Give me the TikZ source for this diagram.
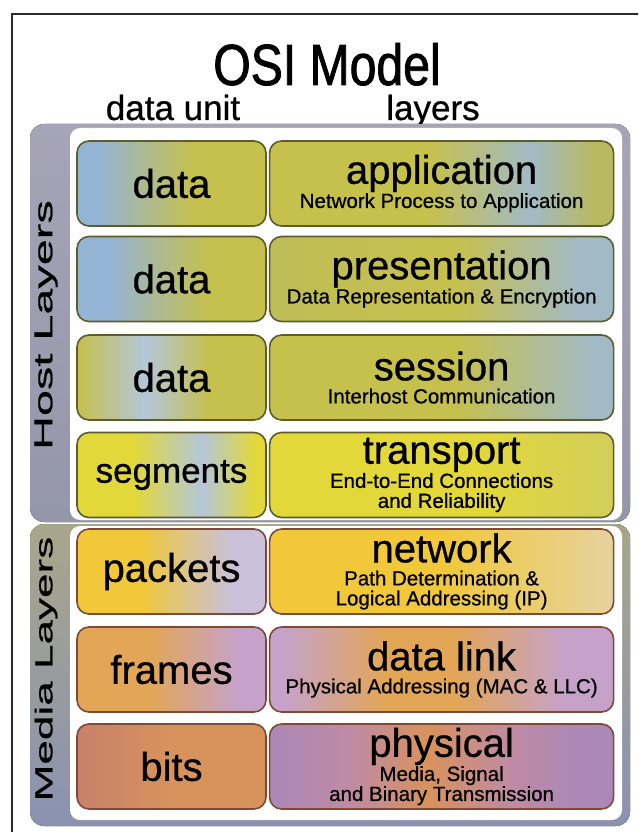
\documentclass[tikz,border=0pt]{standalone}
\usepackage{fontspec}
\setmainfont{Liberation Sans}[FakeBold=0.7]
\newfontfamily\titlefont[FakeStretch=0.83, FakeBold=1.4]{Liberation Sans}
\newfontfamily\bandfont[FakeStretch=1.8, FakeBold=0.7]{Liberation Sans}
\newcommand{\layerfont}{\fontsize{40}{40}\selectfont}
\usepackage{tikz}
\usetikzlibrary{positioning}
\usepackage{xcolor}

\definecolor{frameline}{HTML}{2A2A2A}
\definecolor{hosttop}{HTML}{A6A4B6}
\definecolor{hostbot}{HTML}{9496AA}
\definecolor{mediatop}{HTML}{A8A68A}
\definecolor{mediabot}{HTML}{8A92B2}
\definecolor{hostedge}{HTML}{5C5C2C}
\definecolor{mediaedge}{HTML}{7E4A36}
\definecolor{cblue}{HTML}{94B4D6}
\definecolor{colive}{HTML}{C6C04C}
\definecolor{colivegreen}{HTML}{B8BA62}
\definecolor{cgreyblue}{HTML}{A2BAC6}
\definecolor{cyellow}{HTML}{E2D83A}
\definecolor{cyellowolive}{HTML}{D2CE5A}
\definecolor{cpaleblue}{HTML}{B4C6DA}
\definecolor{cgold}{HTML}{F0C83A}
\definecolor{clavender}{HTML}{CAC0DA}
\definecolor{ccream}{HTML}{E6D29E}
\definecolor{corange}{HTML}{E2A656}
\definecolor{cmauve}{HTML}{C6A2CA}
\definecolor{cbrown}{HTML}{C8806A}
\definecolor{cpeach}{HTML}{D8925C}
\definecolor{cpurple}{HTML}{AA88B8}
\definecolor{cpink}{HTML}{C08AA4}

% box shadings (25bp = left edge, 75bp = right edge)
\pgfdeclarehorizontalshading{appunit}{100bp}{color(0bp)=(cblue); color(30bp)=(cblue); color(56bp)=(colive); color(100bp)=(colive)}
\pgfdeclarehorizontalshading{applayer}{100bp}{color(0bp)=(colive); color(48bp)=(colive); color(63bp)=(cgreyblue); color(72bp)=(colivegreen); color(100bp)=(colivegreen)}
\pgfdeclarehorizontalshading{presunit}{100bp}{color(0bp)=(cblue); color(33bp)=(cblue); color(60bp)=(colive); color(100bp)=(colive)}
\pgfdeclarehorizontalshading{preslayer}{100bp}{color(0bp)=(colivegreen); color(52bp)=(colive); color(70bp)=(cgreyblue); color(100bp)=(cgreyblue)}
\pgfdeclarehorizontalshading{sesunit}{100bp}{color(0bp)=(colive); color(25bp)=(colive); color(43bp)=(cpaleblue); color(60bp)=(colive); color(100bp)=(colive)}
\pgfdeclarehorizontalshading{seslayer}{100bp}{color(0bp)=(colive); color(52bp)=(colive); color(72bp)=(cgreyblue); color(100bp)=(cgreyblue)}
\pgfdeclarehorizontalshading{traunit}{100bp}{color(0bp)=(cyellow); color(40bp)=(cyellow); color(58bp)=(cpaleblue); color(72bp)=(cyellow); color(100bp)=(cyellow)}
\pgfdeclarehorizontalshading{tralayer}{100bp}{color(0bp)=(cyellow); color(55bp)=(cyellow); color(75bp)=(cyellowolive); color(100bp)=(cyellowolive)}
\pgfdeclarehorizontalshading{netunit}{100bp}{color(0bp)=(cgold); color(42bp)=(cgold); color(66bp)=(clavender); color(100bp)=(clavender)}
\pgfdeclarehorizontalshading{netlayer}{100bp}{color(0bp)=(cgold); color(50bp)=(cgold); color(75bp)=(ccream); color(100bp)=(ccream)}
\pgfdeclarehorizontalshading{dlunit}{100bp}{color(0bp)=(corange); color(44bp)=(corange); color(68bp)=(cmauve); color(100bp)=(cmauve)}
\pgfdeclarehorizontalshading{dllayer}{100bp}{color(0bp)=(cmauve); color(27bp)=(cmauve); color(42bp)=(corange); color(52bp)=(corange); color(68bp)=(cmauve); color(100bp)=(cmauve)}
\pgfdeclarehorizontalshading{phyunit}{100bp}{color(0bp)=(cbrown); color(25bp)=(cbrown); color(50bp)=(cpeach); color(100bp)=(cpeach)}
\pgfdeclarehorizontalshading{phylayer}{100bp}{color(0bp)=(cpurple); color(25bp)=(cpurple); color(37bp)=(cpink); color(48bp)=(cpeach); color(60bp)=(cpink); color(70bp)=(cpurple); color(100bp)=(cpurple)}

\begin{document}
\begin{tikzpicture}[
    x=1pt, y=-1pt,
    unitbox/.style={rectangle, draw=hostedge, line width=1.6pt, rounded corners=12pt, minimum width=189pt, minimum height=85pt, inner sep=2pt, align=center, font=\fontsize{40}{40}\selectfont},
    layerbox/.style={rectangle, draw=hostedge, line width=1.6pt, rounded corners=12pt, minimum width=344pt, minimum height=85pt, inner sep=2pt, align=center, font=\fontsize{20.5}{23}\selectfont},
    mediabox/.style={draw=mediaedge},
    header/.style={anchor=base, font=\fontsize{35}{35}\selectfont},
    bandlabel/.style={rotate=90, font=\bandfont\fontsize{26}{26}\selectfont}
]
    \useasboundingbox (0,0) rectangle (638,832);
    \clip (0,0) rectangle (638,832);

    % Frame
    \draw[frameline, line width=1.2pt] (12,850) -- (12,14) -- (660,14);

    % Title and headers
    \node[anchor=base, font=\titlefont\fontsize{58}{58}\selectfont] (title) at (327,85) {OSI Model};
    \node[header] (unithead) at (173,120) {data unit};
    \node[header] (layerhead) at (433,120) {layers};

    % Host and media panels
    \fill[top color=hosttop, bottom color=hostbot, rounded corners=14pt] (30,124) rectangle (630,522);
    \fill[white, rounded corners=10pt] (70,128) rectangle (622,520);
    \fill[top color=mediatop, bottom color=mediabot, rounded corners=14pt] (30,524) rectangle (630,826);
    \fill[white, rounded corners=10pt] (70,526) rectangle (622,820);

    \node[bandlabel] (hostlabel) at (46,325) {Host Layers};
    \node[bandlabel, font=\bandfont\fontsize{24.5}{24.5}\selectfont] (medialabel) at (46,669) {Media Layers};

    % Host layers
    \node[unitbox, shading=appunit] (appdata) at (171.5,183.5) {data};
    \node[layerbox, shading=applayer, right=2pt of appdata] (application) {{\layerfont application}\\Network Process to Application};

    \node[unitbox, shading=presunit] (presdata) at (171.5,279) {data};
    \node[layerbox, shading=preslayer, right=2pt of presdata] (presentation) {{\layerfont presentation}\\Data Representation \& Encryption};

    \node[unitbox, shading=sesunit] (sesdata) at (171.5,377.5) {data};
    \node[layerbox, shading=seslayer, right=2pt of sesdata] (session) {{\layerfont session}\\Interhost Communication};

    \node[unitbox, shading=traunit, font=\fontsize{35}{35}\selectfont] (segments) at (171.5,475) {segments};
    \node[layerbox, shading=tralayer, right=2pt of segments] (transport) {{\layerfont transport}\\End-to-End Connections\\[-3pt]and Reliability};

    % Media layers
    \node[unitbox, mediabox, shading=netunit] (packets) at (171.5,571.5) {packets};
    \node[layerbox, mediabox, shading=netlayer, right=2pt of packets] (network) {{\layerfont network}\\Path Determination \&\\[-3pt]Logical Addressing (IP)};

    \node[unitbox, mediabox, shading=dlunit] (frames) at (171.5,669.5) {frames};
    \node[layerbox, mediabox, shading=dllayer, right=2pt of frames] (datalink) {{\layerfont data link}\\Physical Addressing (MAC \& LLC)};

    \node[unitbox, mediabox, shading=phyunit] (bits) at (171.5,766.5) {bits};
    \node[layerbox, mediabox, shading=phylayer, right=2pt of bits] (physical) {{\layerfont physical}\\Media, Signal\\[-3pt]and Binary Transmission};
\end{tikzpicture}
\end{document}
